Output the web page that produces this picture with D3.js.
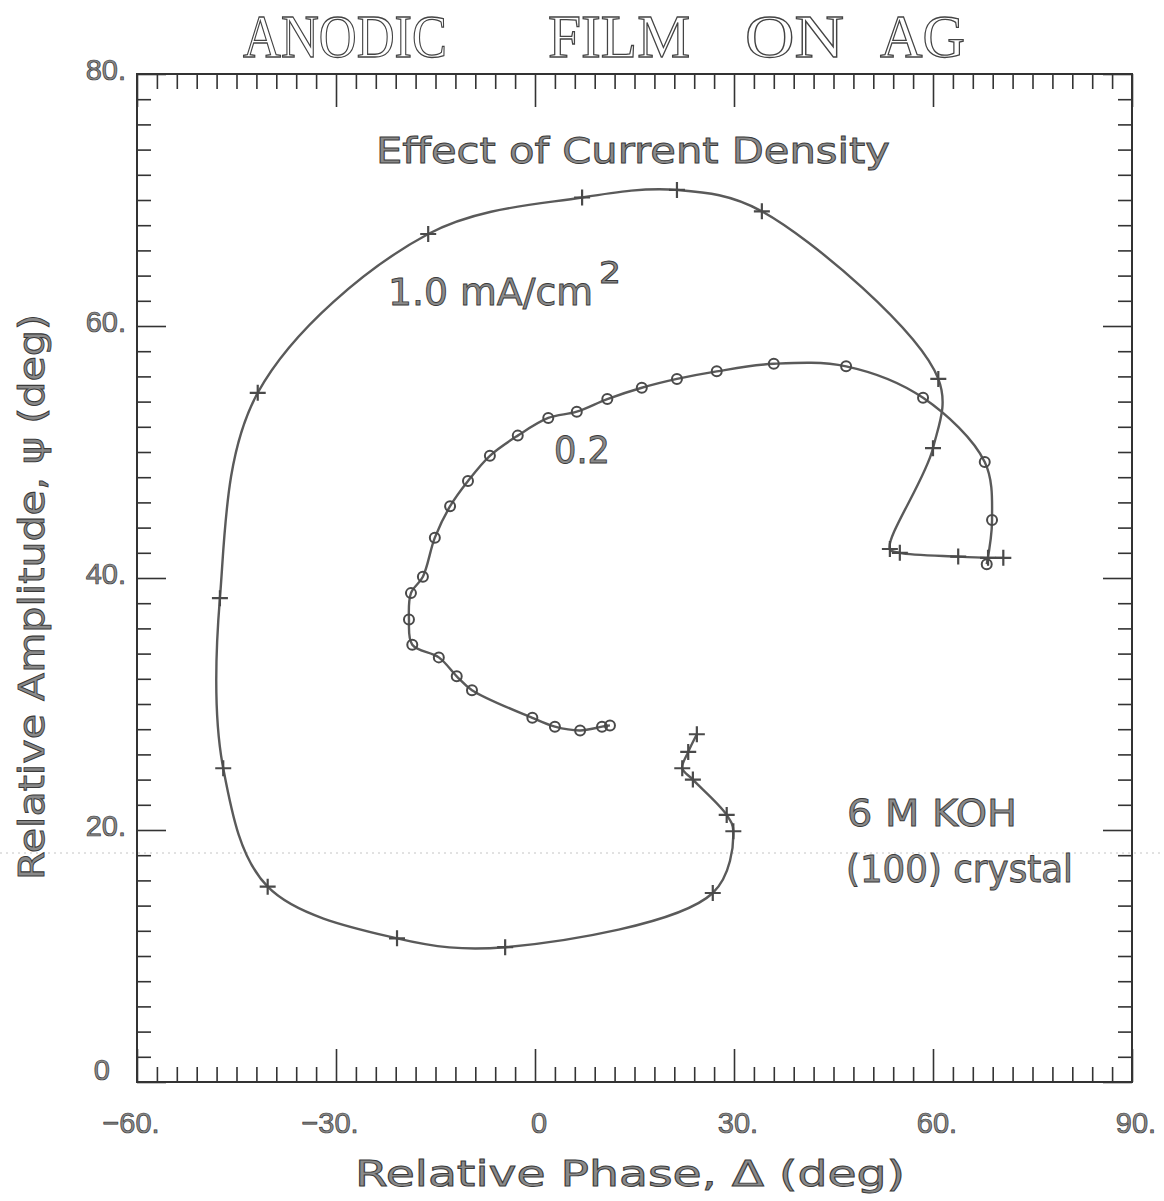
<!DOCTYPE html>
<html>
<head>
<meta charset="utf-8">
<script src="https://cdn.jsdelivr.net/npm/d3@7"></script>
<style>
  html, body { margin: 0; padding: 0; background: #fff; }
  svg { display: block; }
  .lbl { font-family: "DejaVu Sans", sans-serif; fill: #8a8a8a; stroke: #3a3a3a; stroke-width: 0.9; }
  .tick-lbl { font-family: "Liberation Sans", sans-serif; fill: #8a8a8a; stroke: #3a3a3a; stroke-width: 0.7; }
</style>
</head>
<body>
<svg width="1164" height="1201"></svg>
<script>
// 1.0 mA/cm2 run (+ markers), in drawing order
const highPhase = [24.4, 23.1, 22.2, 23.8, 28.9, 29.9, 26.8, -4.5, -20.8, -40.3, -47.0, -47.5, -41.8, -16.1, 7.1, 21.4, 34.2, 60.8, 60.0, 53.5, 55.0, 63.8, 68.3, 70.6];
const highAmp   = [27.6, 26.2, 24.9, 24.0, 21.2, 19.9, 15.0, 10.7, 11.4, 15.5, 24.9, 38.4, 54.7, 67.3, 70.2, 70.8, 69.1, 55.8, 50.3, 42.3, 42.0, 41.7, 41.6, 41.6];

// 0.2 mA/cm2 run (o markers)
const lowPhase = [11.3, 10.1, 6.8, 3.0, -0.4, -9.5, -11.8, -14.5, -18.5, -19.0, -18.7, -16.9, -15.1, -12.8, -10.1, -6.8, -2.6, 2.0, 6.3, 10.9, 16.1, 21.4, 27.4, 36.0, 46.9, 58.5, 67.8, 68.9, 68.1];
const lowAmp   = [28.3, 28.2, 27.9, 28.2, 28.9, 31.1, 32.2, 33.7, 34.7, 36.7, 38.8, 40.1, 43.2, 45.7, 47.7, 49.7, 51.3, 52.7, 53.2, 54.2, 55.1, 55.8, 56.4, 57.0, 56.8, 54.3, 49.2, 44.6, 41.1];

const xMajor = [-60, -30, 0, 30, 60, 90];
const xLabels = ["\u221260.", "\u221230.", "0", "30.", "60.", "90."];
const yMajor = [0, 20, 40, 60, 80];
const yLabels = ["0", "20.", "40.", "60.", "80."];

const svg = d3.select("svg");
const pL = 137, pR = 1132, pT = 74, pB = 1082;

const x = d3.scaleLinear().domain([-60, 90]).range([pL, pR]);
const y = d3.scaleLinear().domain([0, 80]).range([pB, pT]);

svg.append("rect").attr("width", 1164).attr("height", 1201).attr("fill", "#fff");

// faint scan line across the sheet
svg.append("line")
  .attr("x1", 0).attr("x2", 1164).attr("y1", 853).attr("y2", 853)
  .attr("stroke", "#c4c4c4").attr("stroke-width", 1).attr("stroke-dasharray", "2,4");

const xMinor = d3.range(-60, 91, 3).filter(v => !xMajor.includes(v));
const yMinor = d3.range(0, 81, 2).filter(v => !yMajor.includes(v));

function styleAxis(g) {
  g.select(".domain").remove();
  g.selectAll("line").attr("stroke", "#333").attr("stroke-width", 1.6);
  g.selectAll("text").remove();
}

// ticks pointing inward on all four sides
svg.append("g").attr("transform", `translate(0,${pB})`)
  .call(d3.axisBottom(x).tickValues(xMinor).tickSize(-15)).call(styleAxis);
svg.append("g").attr("transform", `translate(0,${pB})`)
  .call(d3.axisBottom(x).tickValues(xMajor).tickSize(-33)).call(styleAxis);
svg.append("g").attr("transform", `translate(0,${pT})`)
  .call(d3.axisTop(x).tickValues(xMinor).tickSize(-15)).call(styleAxis);
svg.append("g").attr("transform", `translate(0,${pT})`)
  .call(d3.axisTop(x).tickValues(xMajor).tickSize(-33)).call(styleAxis);
svg.append("g").attr("transform", `translate(${pL},0)`)
  .call(d3.axisLeft(y).tickValues(yMinor).tickSize(-14)).call(styleAxis);
svg.append("g").attr("transform", `translate(${pL},0)`)
  .call(d3.axisLeft(y).tickValues(yMajor).tickSize(-29)).call(styleAxis);
svg.append("g").attr("transform", `translate(${pR},0)`)
  .call(d3.axisRight(y).tickValues(yMinor).tickSize(-14)).call(styleAxis);
svg.append("g").attr("transform", `translate(${pR},0)`)
  .call(d3.axisRight(y).tickValues(yMajor).tickSize(-29)).call(styleAxis);

svg.append("rect")
  .attr("x", pL).attr("y", pT)
  .attr("width", pR - pL).attr("height", pB - pT)
  .attr("fill", "none").attr("stroke", "#333").attr("stroke-width", 2);

// tick labels
svg.append("g").selectAll("text").data(xMajor).join("text")
  .attr("class", "tick-lbl")
  .attr("x", d => x(d) + (d < 0 ? -6 : 4))
  .attr("y", 1133)
  .attr("text-anchor", "middle")
  .attr("font-size", 29)
  .text((d, i) => xLabels[i]);

svg.append("g").selectAll("text").data(yMajor).join("text")
  .attr("class", "tick-lbl")
  .attr("x", d => d === 0 ? 110 : 126)
  .attr("y", d => y(d) + (d === 0 ? -2 : 6))
  .attr("text-anchor", "end")
  .attr("font-size", 29)
  .text((d, i) => yLabels[i]);

// title
const titleWords = [["ANODIC", 243, 204], ["FILM", 548, 142], ["ON", 745, 99], ["AG", 880, 85]];
svg.append("g").selectAll("text").data(titleWords).join("text")
  .attr("x", d => d[1])
  .attr("y", 57)
  .attr("textLength", d => d[2])
  .attr("lengthAdjust", "spacingAndGlyphs")
  .attr("font-family", "Liberation Serif, serif")
  .attr("font-size", 62)
  .attr("fill", "#fff")
  .attr("stroke", "#444")
  .attr("stroke-width", 1.3)
  .text(d => d[0]);

// axis titles
svg.append("text").attr("class", "lbl")
  .attr("x", 355).attr("y", 1186)
  .attr("font-size", 35)
  .attr("textLength", 550).attr("lengthAdjust", "spacingAndGlyphs")
  .text("Relative Phase, \u0394 (deg)");

svg.append("text").attr("class", "lbl")
  .attr("transform", "translate(44,880) rotate(-90)")
  .attr("font-size", 35)
  .attr("textLength", 566).attr("lengthAdjust", "spacingAndGlyphs")
  .text("Relative Amplitude, \u03c8 (deg)");

// annotations
function note(tx, ty, size, len, str) {
  return svg.append("text").attr("class", "lbl")
    .attr("x", tx).attr("y", ty)
    .attr("font-size", size)
    .attr("textLength", len).attr("lengthAdjust", "spacingAndGlyphs")
    .text(str);
}
note(376, 163, 35, 514, "Effect of Current Density");
note(388, 305, 37, 205, "1.0 mA/cm");
note(599, 283, 30, 22, "2");
note(554, 463, 37, 56, "0.2");
note(847, 826, 37, 170, "6 M KOH");
note(846, 882, 37, 227, "(100) crystal");

// curves
const line = d3.line()
  .x(d => x(d[0]))
  .y(d => y(d[1]))
  .curve(d3.curveCatmullRom.alpha(0.5));

const highPts = highPhase.map((v, i) => [v, highAmp[i]]);
const lowPts = lowPhase.map((v, i) => [v, lowAmp[i]]);

svg.append("path").datum(highPts)
  .attr("d", line).attr("fill", "none")
  .attr("stroke", "#5a5a5a").attr("stroke-width", 2.4);
svg.append("path").datum(lowPts)
  .attr("d", line).attr("fill", "none")
  .attr("stroke", "#5a5a5a").attr("stroke-width", 2.4);

// + markers
svg.append("g").selectAll("path").data(highPts).join("path")
  .attr("d", d => {
    const cx = x(d[0]), cy = y(d[1]);
    return `M${cx - 8},${cy}H${cx + 8}M${cx},${cy - 8}V${cy + 8}`;
  })
  .attr("fill", "none").attr("stroke", "#4a4a4a").attr("stroke-width", 2.2);

// o markers
svg.append("g").selectAll("circle").data(lowPts).join("circle")
  .attr("cx", d => x(d[0])).attr("cy", d => y(d[1]))
  .attr("r", 5)
  .attr("fill", "none").attr("stroke", "#4a4a4a").attr("stroke-width", 2);
</script>
</body>
</html>
